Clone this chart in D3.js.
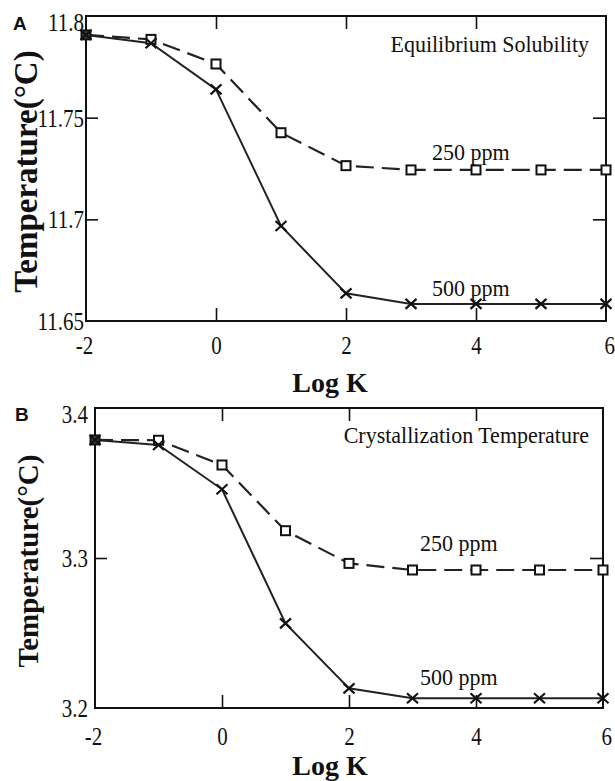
<!DOCTYPE html>
<html>
<head>
<meta charset="utf-8">
<script src="https://cdn.jsdelivr.net/npm/d3@7"></script>
<style>
  html, body { margin: 0; padding: 0; background: #fff; }
  svg { display: block; }
</style>
</head>
<body>
<svg id="chart" width="615" height="781"></svg>
<script>
// ---------------- DATA ----------------
const logK = [-2, -1, 0, 1, 2, 3, 4, 5, 6];
const xTickValues = [-2, 0, 2, 4, 6];
const xTickLabels = ["-2", "0", "2", "4", "6"];

// Panel A: Equilibrium Solubility (°C)
const solubility250 = [11.7907, 11.7885, 11.7764, 11.7426, 11.7264, 11.7243, 11.7243, 11.7243, 11.7243];
const solubility500 = [11.7907, 11.7866, 11.7639, 11.6967, 11.6636, 11.6584, 11.6584, 11.6584, 11.6584];
const yTicksA = [11.65, 11.7, 11.75, 11.8];
const yTickLabelsA = ["11.65", "11.7", "11.75", "11.8"];

// Panel B: Crystallization Temperature (°C)
const crystal250 = [3.3787, 3.3785, 3.3620, 3.3182, 3.2964, 3.2920, 3.2920, 3.2920, 3.2920];
const crystal500 = [3.3787, 3.3753, 3.3458, 3.2564, 3.2131, 3.2065, 3.2065, 3.2065, 3.2065];
const yTicksB = [3.2, 3.3, 3.4];
const yTickLabelsB = ["3.2", "3.3", "3.4"];

const seriesNames = ["250 ppm", "500 ppm"];
const panelTitles = ["Equilibrium Solubility", "Crystallization Temperature"];
const panelLetters = ["A", "B"];
const xTitle = "Log K";
const yTitle = "Temperature(°C)";

// ---------------- LAYOUT ----------------
const svg = d3.select("#chart");
const SERIF = "'Liberation Serif', 'Times New Roman', serif";
const SANS = "'Liberation Sans', Arial, sans-serif";
const STRETCH = 1.15; // scanned text is slightly taller than wide

const panels = [
  {
    letter: panelLetters[0], title: panelTitles[0],
    left: 86, right: 606, top: 16, bottom: 321,
    yDomain: [11.65, 11.8], yTicks: yTicksA, yLabels: yTickLabelsA,
    s250: solubility250, s500: solubility500,
    letterPos: [13, 30],
    titlePos: [589, 52],
    lab250: [432, 160], lab500: [432, 296],
    yTitleX: 37, yTitleSize: 33,
    yLabelPad: 2, xLabelOffset: 33, xTitleY: 392
  },
  {
    letter: panelLetters[1], title: panelTitles[1],
    left: 95, right: 603, top: 408, bottom: 708,
    yDomain: [3.2, 3.4], yTicks: yTicksB, yLabels: yTickLabelsB,
    s250: crystal250, s500: crystal500,
    letterPos: [15, 421],
    titlePos: [589, 443],
    lab250: [420, 551], lab500: [420, 685],
    yTitleX: 38, yTitleSize: 29,
    yLabelPad: 7, xLabelOffset: 37, xTitleY: 775
  }
];

panels.forEach(p => {
  const x = d3.scaleLinear().domain([-2, 6]).range([p.left, p.right]);
  const y = d3.scaleLinear().domain(p.yDomain).range([p.bottom, p.top]);
  const g = svg.append("g");

  // bottom axis with inward ticks + labels
  const bottomAxis = d3.axisBottom(x)
    .tickValues(xTickValues)
    .tickFormat((d, i) => xTickLabels[i])
    .tickSizeInner(-13).tickSizeOuter(0);
  const gb = g.append("g").attr("transform", `translate(0,${p.bottom})`).call(bottomAxis);
  gb.select(".domain").remove();
  gb.selectAll(".tick line").attr("stroke", "#111").attr("stroke-width", 1.6)
    .filter(d => d === -2 || d === 6).remove();
  gb.selectAll(".tick text")
    .attr("y", 0).attr("dy", 0)
    .attr("transform", `translate(0,${p.xLabelOffset}) scale(1,${STRETCH})`)
    .attr("font-family", SERIF).attr("font-size", 21).attr("fill", "#111")
    .attr("dx", d => d < 0 ? "-0.1em" : (d === 6 ? "0.15em" : 0));

  // top axis ticks
  const topAxis = d3.axisTop(x).tickValues(xTickValues.filter(v => v > -2 && v < 6))
    .tickFormat("").tickSizeInner(-13).tickSizeOuter(0);
  const gt = g.append("g").attr("transform", `translate(0,${p.top})`).call(topAxis);
  gt.select(".domain").remove();
  gt.selectAll(".tick line").attr("stroke", "#111").attr("stroke-width", 1.6);

  // left axis with inward ticks + labels
  const leftAxis = d3.axisLeft(y)
    .tickValues(p.yTicks)
    .tickFormat((d, i) => p.yLabels[i])
    .tickSizeInner(-12).tickSizeOuter(0);
  const gl = g.append("g").attr("transform", `translate(${p.left},0)`).call(leftAxis);
  gl.select(".domain").remove();
  gl.selectAll(".tick line").attr("stroke", "#111").attr("stroke-width", 1.6)
    .filter((d, i) => i === 0 || i === p.yTicks.length - 1).remove();
  gl.selectAll(".tick text")
    .attr("x", 0).attr("y", 0).attr("dy", "0.35em")
    .attr("transform", (d, i) => `translate(${-p.yLabelPad},${i === p.yTicks.length - 1 ? 6 : 0}) scale(1,${STRETCH})`)
    .attr("font-family", SERIF).attr("font-size", 21).attr("fill", "#111");

  // right axis ticks
  const rightAxis = d3.axisRight(y)
    .tickValues(p.yTicks.slice(1, -1))
    .tickFormat("").tickSizeInner(-13).tickSizeOuter(0);
  const gr = g.append("g").attr("transform", `translate(${p.right},0)`).call(rightAxis);
  gr.select(".domain").remove();
  gr.selectAll(".tick line").attr("stroke", "#111").attr("stroke-width", 1.6);

  // frame
  g.append("rect")
    .attr("x", p.left).attr("y", p.top)
    .attr("width", p.right - p.left).attr("height", p.bottom - p.top)
    .attr("fill", "none").attr("stroke", "#111").attr("stroke-width", 2);

  const line = d3.line().x((d, i) => x(logK[i])).y(d => y(d));

  // 250 ppm dashed line with square markers
  g.append("path").datum(p.s250)
    .attr("d", line).attr("fill", "none")
    .attr("stroke", "#222").attr("stroke-width", 2.2)
    .attr("stroke-dasharray", "18,8");
  // 500 ppm solid line with x markers
  g.append("path").datum(p.s500)
    .attr("d", line).attr("fill", "none")
    .attr("stroke", "#222").attr("stroke-width", 2);

  const sq = 9;
  g.selectAll(".sq").data(p.s250).enter().append("rect")
    .attr("x", (d, i) => x(logK[i]) - sq / 2)
    .attr("y", d => y(d) - sq / 2)
    .attr("width", sq).attr("height", sq)
    .attr("fill", (d, i) => i === 0 ? "#444" : "#fff")
    .attr("stroke", "#111").attr("stroke-width", 2);

  g.selectAll(".xm").data(p.s500).enter().append("path")
    .attr("d", (d, i) => {
      const cx = x(logK[i]), cy = y(d), hx = 5.5, hy = 5;
      return `M${cx - hx},${cy - hy}L${cx + hx},${cy + hy}M${cx - hx},${cy + hy}L${cx + hx},${cy - hy}`;
    })
    .attr("stroke", "#111").attr("stroke-width", 2.2).attr("fill", "none");

  // annotations
  const txt = (str, px, py, size, anchor) => g.append("text").text(str)
    .attr("transform", `translate(${px},${py}) scale(1,1.06)`)
    .attr("text-anchor", anchor || "start")
    .attr("font-family", SERIF).attr("font-size", size).attr("fill", "#111");
  txt(p.title, p.titlePos[0], p.titlePos[1], 22, "end");
  txt(seriesNames[0], p.lab250[0], p.lab250[1], 22);
  txt(seriesNames[1], p.lab500[0], p.lab500[1], 22);

  // panel letter
  g.append("text").text(p.letter)
    .attr("x", p.letterPos[0]).attr("y", p.letterPos[1])
    .attr("font-family", SANS).attr("font-weight", "bold")
    .attr("font-size", 19).attr("fill", "#111");

  // axis titles
  g.append("text").text(xTitle)
    .attr("x", 330).attr("y", p.xTitleY)
    .attr("text-anchor", "middle")
    .attr("font-family", SERIF).attr("font-weight", "bold")
    .attr("font-size", 28).attr("fill", "#111");

  const cy = (p.top + p.bottom) / 2 + 3;
  g.append("text").text(yTitle)
    .attr("transform", `translate(${p.yTitleX},${cy}) rotate(-90)`)
    .attr("text-anchor", "middle")
    .attr("font-family", SERIF).attr("font-weight", "bold")
    .attr("font-size", p.yTitleSize).attr("fill", "#111");
});
</script>
</body>
</html>
